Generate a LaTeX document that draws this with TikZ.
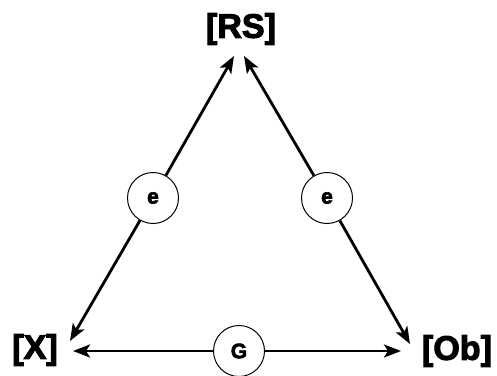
\documentclass[tikz,border=0pt]{standalone}
\usetikzlibrary{arrows.meta}
\usepackage{fontspec}
\setmainfont{Liberation Sans}
\font\lblfont="Liberation Sans/B:embolden=3" at 34pt
\font\ringfont="Liberation Sans/B:embolden=3" at 21pt
\tikzset{
  lbl/.style={inner sep=0pt, font=\lblfont},
  ring/.style={circle, draw, line width=1pt, minimum size=51pt, inner sep=0pt, font=\ringfont},
  con/.style={line width=2.8pt, -{Stealth[length=17pt,width=13pt,inset=4pt]}}
}
\begin{document}
\begin{tikzpicture}[x=1pt,y=-1pt]
\useasboundingbox (0,0) rectangle (497,375);
\node[lbl] (RS) at (241,29) {[RS]};
\node[lbl] (X) at (35,350) {[X]};
\node[lbl] (Ob) at (457,351) {[Ob]};
\node[ring] (cl) at (153,198) {e};
\node[ring] (cr) at (327,198) {e};
\node[ring] (cb) at (239,351) {G};
\coordinate (tRSl) at (234,56);
\coordinate (tRSr) at (244,56);
\coordinate (tXu) at (70,341);
\coordinate (tXb) at (73,351);
\coordinate (tObu) at (410,344);
\coordinate (tObb) at (401,351);
\draw[con] (cl) -- (tRSl);
\draw[con] (cl) -- (tXu);
\draw[con] (cr) -- (tRSr);
\draw[con] (cr) -- (tObu);
\draw[con] (cb) -- (tXb);
\draw[con] (cb) -- (tObb);
\end{tikzpicture}
\end{document}
